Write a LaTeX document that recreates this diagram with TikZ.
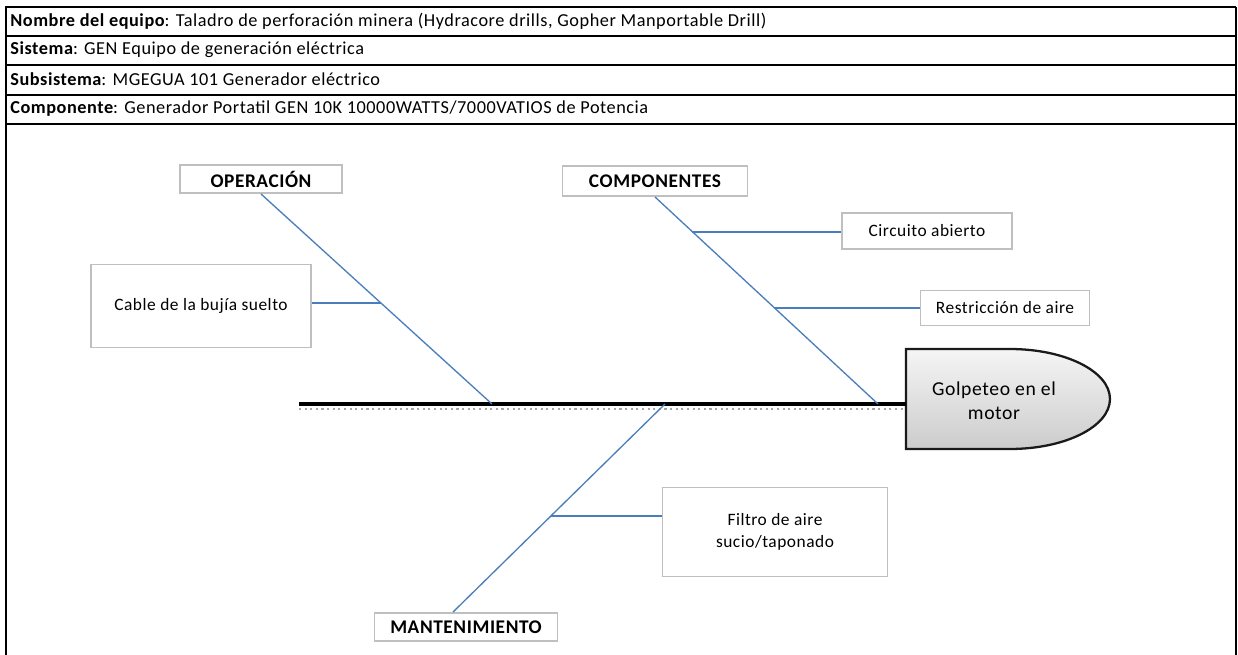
\documentclass[tikz,border=0pt]{standalone}
\usepackage{fontspec}
\setmainfont[LetterSpace=3]{Carlito}
\usetikzlibrary{positioning,calc}
\definecolor{fbBlueLine}{HTML}{4A7EBB}
\definecolor{fbBoxLine}{HTML}{BFBFBF}
\definecolor{fbHeadLine}{HTML}{1A1A1A}
\tikzset{
  cause box/.style={
    draw=fbBoxLine, fill=white, line width=1.1pt,
    font=\fontsize{9.9}{12.8}\selectfont, align=center, inner sep=0pt,
  },
  category box/.style={
    cause box, font=\fontsize{11}{13}\selectfont\bfseries,
  },
  bone/.style={line width=0.75pt, color=fbBlueLine},
  twig/.style={line width=1.0pt, color=fbBlueLine},   % side causes
  spine/.style={line width=2.6pt, black},
  row line/.style={line width=1.4pt, black},
  row text/.style={anchor=west, inner sep=0pt, font=\fontsize{10.4}{11}\selectfont},
}

\begin{document}
\begin{tikzpicture}[x=0.02cm, y=-0.02cm]
\useasboundingbox (0,0) rectangle (1238,654);

%% header table
\draw[line width=0.8pt] (6,660) -- (6,7) -- (1236,7);
\draw[line width=1.5pt] (1236,7) -- (1236,660);
\foreach \yl in {36,65,95,124} {
  \draw[row line] (6,\yl) -- (1236,\yl);
}
\foreach \i/\yt/\lab/\txt in {
  1/21/{Nombre del equipo}/{Taladro de perforación minera (Hydracore drills, Gopher Manportable Drill)},
  2/50/{Sistema}/{GEN Equipo de generación eléctrica},
  3/79/{Subsistema}/{MGEGUA 101 Generador eléctrico},
  4/109/{Componente}/{Generador Portatil GEN 10K 10000WATTS/7000VATIOS de Potencia}} {
  \node[row text] (row\i) at (10,\yt) {{\bfseries\lab}: \txt};
}

%% effect (head)
\draw[fbHeadLine, line width=1.3pt, top color=gray!8, bottom color=gray!40]
  (906,349) -- (1010,349) arc[start angle=90, end angle=-90, x radius=2cm, y radius=1cm]
  -- (906,449) -- cycle;
\node[font=\fontsize{11.2}{13.5}\selectfont, align=center] (head) at (994,401)
  {Golpeteo en el\\motor};

%% spine
\coordinate (spineL) at (299,404);
\coordinate (headL) at (906,404);
\draw[gray!70, dotted, line width=1.2pt] (299,409) -- (906,409);
\draw[spine] (spineL) -- (headL);

%% categories
\node[category box, minimum width=3.24cm, minimum height=0.56cm] (oper) at (261,179) {OPERACIÓN};
\node[category box, minimum width=3.7cm, minimum height=0.6cm] (comp) at (655,181) {COMPONENTES};
\node[category box, minimum width=3.66cm, minimum height=0.56cm] (mant) at (466,627) {MANTENIMIENTO};

%% causes
\node[cause box, minimum width=4.4cm, minimum height=1.66cm] (cable) at (201,306) {Cable de la bujía suelto};
\node[cause box, minimum width=3.4cm, minimum height=0.72cm] (circ) at (927,231) {Circuito abierto};
\node[cause box, minimum width=3.38cm, minimum height=0.7cm] (restr) at (1005,308) {Restricción de aire};
\node[cause box, minimum width=4.5cm, minimum height=1.78cm] (filt) at (775,532) {Filtro de aire\\sucio/taponado};

%% bones
\coordinate (opFoot) at (492,404);
\coordinate (coFoot) at (878,404);
\coordinate (maFoot) at (665,404);
\coordinate (maTop) at ([xshift=-0.26cm]mant.north);
\draw[bone] (oper.south) -- (opFoot);
\draw[bone] (comp.south) -- (coFoot);
\draw[bone] (maTop) -- (maFoot);

% twigs, fraction along the bone
\coordinate (opTw) at ($(oper.south)!0.52!(opFoot)$);
\coordinate (ciTw) at ($(comp.south)!0.168!(coFoot)$);
\coordinate (reTw) at ($(comp.south)!0.538!(coFoot)$);
\coordinate (fiTw) at ($(maTop)!0.46!(maFoot)$);
\draw[twig] (opTw) -- (opTw -| cable.east);
\draw[twig] (ciTw) -- (ciTw -| circ.west);
\draw[twig] (reTw) -- (reTw -| restr.west);
\draw[twig] (fiTw) -- (fiTw -| filt.west);

\end{tikzpicture}
\end{document}
